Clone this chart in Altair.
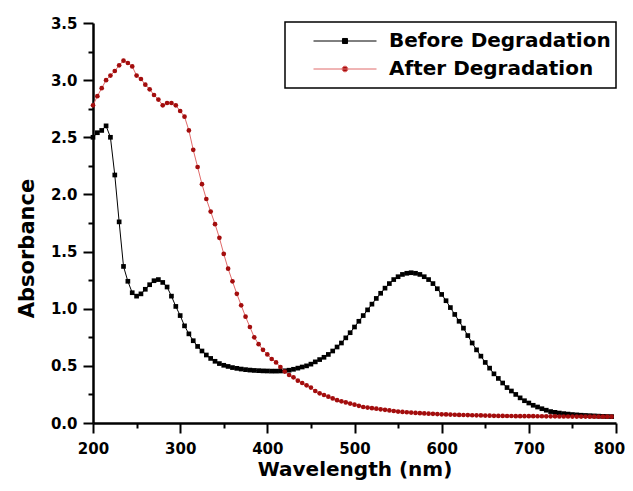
import altair as alt
import pandas as pd

# ---- data ----
wavelengths = list(range(200, 800, 5))  # 200 ... 795 nm

before = [
    2.50, 2.54, 2.56, 2.60, 2.50, 2.17, 1.76, 1.37, 1.24, 1.14,
    1.11, 1.13, 1.17, 1.21, 1.245, 1.255, 1.23, 1.19, 1.11, 1.02,
    0.94, 0.85, 0.78, 0.72, 0.67, 0.63, 0.595, 0.565, 0.54, 0.52,
    0.505, 0.495, 0.485, 0.478, 0.472, 0.467, 0.463, 0.46, 0.458, 0.456,
    0.455, 0.454, 0.454, 0.455, 0.457, 0.462, 0.47, 0.48, 0.49, 0.50,
    0.515, 0.535, 0.555, 0.575, 0.60, 0.63, 0.665, 0.70, 0.745, 0.79,
    0.84, 0.89, 0.94, 0.99, 1.04, 1.09, 1.135, 1.18, 1.22, 1.255,
    1.28, 1.30, 1.31, 1.315, 1.31, 1.30, 1.28, 1.255, 1.22, 1.175,
    1.125, 1.07, 1.01, 0.95, 0.89, 0.83, 0.765, 0.70, 0.64, 0.585,
    0.53, 0.48, 0.43, 0.39, 0.35, 0.31, 0.28, 0.25, 0.22, 0.195,
    0.175, 0.155, 0.14, 0.125, 0.112, 0.10, 0.093, 0.087, 0.082, 0.078,
    0.074, 0.071, 0.068, 0.066, 0.064, 0.062, 0.06, 0.058, 0.057, 0.056,
]

after = [
    2.78, 2.86, 2.93, 3.00, 3.04, 3.08, 3.13, 3.17, 3.15, 3.12,
    3.04, 3.01, 2.96, 2.92, 2.87, 2.83, 2.78, 2.80, 2.80, 2.78,
    2.73, 2.68, 2.56, 2.39, 2.24, 2.09, 1.96, 1.85, 1.74, 1.62,
    1.48, 1.35, 1.24, 1.13, 1.03, 0.93, 0.84, 0.75, 0.69, 0.64,
    0.60, 0.56, 0.53, 0.49, 0.45, 0.42, 0.40, 0.37, 0.35, 0.33,
    0.31, 0.28, 0.26, 0.245, 0.23, 0.215, 0.20, 0.19, 0.18, 0.17,
    0.16, 0.15, 0.14, 0.135, 0.13, 0.125, 0.12, 0.115, 0.11, 0.105,
    0.10, 0.097, 0.094, 0.091, 0.088, 0.086, 0.084, 0.082, 0.08, 0.078,
    0.076, 0.075, 0.074, 0.072, 0.071, 0.07, 0.069, 0.068, 0.067, 0.066,
    0.065, 0.064, 0.063, 0.062, 0.062, 0.061, 0.061, 0.06, 0.06, 0.06,
    0.06, 0.06, 0.059, 0.059, 0.058, 0.058, 0.058, 0.057, 0.057, 0.057,
    0.056, 0.056, 0.056, 0.056, 0.055, 0.055, 0.055, 0.055, 0.055, 0.055,
]

series_names = ["Before Degradation", "After Degradation"]
series_values = [before, after]
marker_colors = ["#000000", "#a30d0d"]
line_colors = ["#000000", "#e06a6a"]
marker_shapes = ["square", "circle"]
marker_sizes = [22, 22]

x_ticks = [200, 250, 300, 350, 400, 450, 500, 550, 600, 650, 700, 750, 800]
y_ticks = [0, 0.25, 0.5, 0.75, 1.0, 1.25, 1.5, 1.75, 2.0, 2.25, 2.5, 2.75, 3.0, 3.25, 3.5]

# legend symbols: a line with a marker in the middle
legend_paths = [
    "M-1,0H1M-0.08,-0.08H0.08V0.08H-0.08Z",
    "M-1,0H1M-0.09,0A0.09,0.09,0,1,0,0.09,0A0.09,0.09,0,1,0,-0.09,0Z",
]

rows = []
for name, vals in zip(series_names, series_values):
    for w, a in zip(wavelengths, vals):
        rows.append({"series": name, "wavelength": w, "absorbance": a})
df = pd.DataFrame(rows)

FONT = "DejaVu Sans"

legend = alt.Legend(
    title=None,
    orient="none",
    legendX=192,
    legendY=-1,
    padding=5,
    rowPadding=0,
    clipHeight=28,
    symbolSize=3969,
    symbolOffset=23,
    symbolStrokeWidth=1,
    symbolOpacity=1,
    labelOffset=12,
    labelLimit=500,
    labelFont=FONT,
    labelFontSize=20,
    labelFontWeight="bold",
    labelColor="#000000",
    labelExpr="datum.label + '\u00a0\u00a0'",
    strokeColor="#000000",
    fillColor="#ffffff",
)

x_enc = alt.X(
    "wavelength:Q",
    scale=alt.Scale(domain=[200, 800], nice=False, zero=False),
    axis=alt.Axis(
        values=x_ticks,
        title="Wavelength (nm)",
        grid=False,
        labelExpr="datum.value % 100 === 0 ? datum.label : ''",
        labelOverlap=False,
        labelFlush=False,
        labelOffset={"condition": {"test": "datum.value === 800", "value": -7}, "value": 0},
        tickSize={"condition": {"test": "datum.value % 100 === 0", "value": 10}, "value": 5},
        tickWidth=2,
        tickColor="#000000",
        domainWidth=2.5,
        domainColor="#000000",
        labelFont=FONT,
        labelFontSize=15,
        labelFontWeight="bold",
        labelColor="#000000",
        labelBaseline="alphabetic",
        labelPadding=20,
        titleFont=FONT,
        titleFontSize=20,
        titleFontWeight="bold",
        titleColor="#000000",
        titleX=261.5,
        titleY=52,
        titleBaseline="alphabetic",
        titleAlign="center",
    ),
)

y_enc = alt.Y(
    "absorbance:Q",
    scale=alt.Scale(domain=[0, 3.5], nice=False, zero=True),
    axis=alt.Axis(
        values=y_ticks,
        format=".1f",
        title="Absorbance",
        grid=False,
        labelExpr="round(datum.value * 4) % 2 === 0 ? datum.label : ''",
        labelOverlap=False,
        labelFlush=False,
        tickSize={"condition": {"test": "round(datum.value * 4) % 2 === 0", "value": 10}, "value": 5},
        tickWidth=2,
        tickColor="#000000",
        domainWidth=2.5,
        domainColor="#000000",
        labelFont=FONT,
        labelFontSize=15,
        labelFontWeight="bold",
        labelColor="#000000",
        labelPadding=6,
        titleFont=FONT,
        titleFontSize=21,
        titleFontWeight="bold",
        titleColor="#000000",
        titleAngle=270,
        titleX=-60,
        titleY=225,
        titleBaseline="alphabetic",
        titleAlign="center",
    ),
)

color_scale = alt.Scale(domain=series_names, range=marker_colors)
stroke_scale = alt.Scale(domain=series_names, range=line_colors)
shape_scale = alt.Scale(domain=series_names, range=legend_paths)

layers = []
for i, name in enumerate(series_names):
    base = alt.Chart(df).transform_filter(alt.datum.series == name)
    line = base.mark_line(color=line_colors[i], strokeWidth=1).encode(x=x_enc, y=y_enc)
    pts = base.mark_point(
        filled=True, shape=marker_shapes[i], size=marker_sizes[i], opacity=1
    ).encode(
        x=x_enc,
        y=y_enc,
        color=alt.Color("series:N", scale=color_scale, legend=legend),
    )
    layers += [line, pts]

# legend-only layer (draws no data marks; the legend is built from the scale domains)
legend_layer = (
    alt.Chart(df)
    .transform_filter("datum.wavelength < 0")
    .mark_point(filled=True, opacity=1, strokeWidth=1)
    .encode(
        x=x_enc,
        y=y_enc,
        color=alt.Color("series:N", scale=color_scale, legend=legend),
        stroke=alt.Stroke("series:N", scale=stroke_scale, legend=legend),
        shape=alt.Shape("series:N", scale=shape_scale, legend=legend),
    )
)
layers.append(legend_layer)

chart = (
    alt.layer(*layers)
    .properties(
        width=523,
        height=400,
        autosize=alt.AutoSizeParams(type="none"),
        padding={"left": 85, "top": 15, "right": 9, "bottom": 57},
        background="#ffffff",
    )
    .configure_view(stroke=None)
    .configure_legend(strokeWidth=1.5)
)

chart.save("out.html", embed_options={"renderer": "svg", "actions": False})
